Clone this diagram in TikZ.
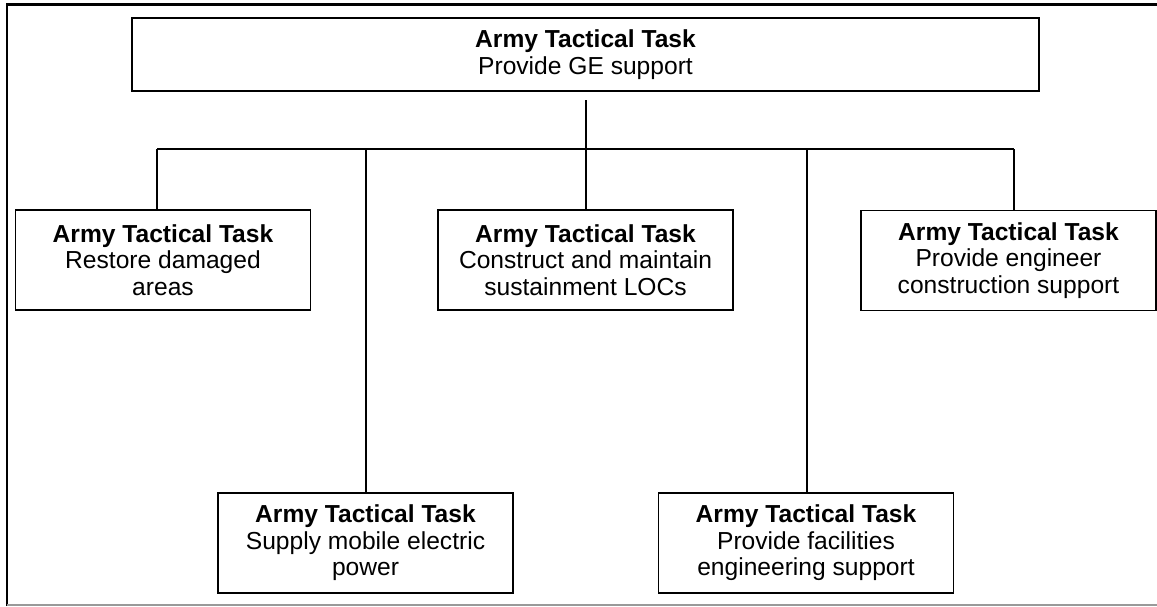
\documentclass[tikz,border=0pt]{standalone}
\usepackage{fontspec}
\setmainfont{Liberation Sans}
\begin{document}
\begin{tikzpicture}[x=1pt,y=-1pt,
  task/.style={draw=black, line width=1.8pt, fill=white, align=center, inner sep=0pt,
    font=\fontsize{24.6}{26.5}\selectfont},
  wide/.style={task, minimum width=907pt, minimum height=73pt},
  tbox/.style={task, minimum width=295pt, minimum height=100pt},
  link/.style={draw=black, line width=1.8pt}]
\useasboundingbox (0,0) rectangle (1157,606);
% frame
\draw[line width=2.6pt] (7,606) -- (7,4.3) -- (1157,4.3);
\draw[line width=1.5pt, gray!80] (7,605.2) -- (1157,605.2);
% nodes
\node[wide] (top) at (585.5,54.5) {\textbf{Army Tactical Task}\\Provide GE support};
\node[tbox] (restore) at (163,260) {\textbf{Army Tactical Task}\\Restore damaged\\areas};
\node[tbox] (loc) at (585.5,260) {\textbf{Army Tactical Task}\\Construct and maintain\\sustainment LOCs};
\node[tbox] (eng) at (1008.5,260.5) {\textbf{Army Tactical Task}\\Provide engineer\\construction support};
\node[tbox] (power) at (365.5,543) {\textbf{Army Tactical Task}\\Supply mobile electric\\power};
\node[tbox] (fac) at (806,543) {\textbf{Army Tactical Task}\\Provide facilities\\engineering support};
% connectors
\coordinate (stem) at (586,100);
\coordinate (j0) at (586,149);
\coordinate (j1) at (157,149);
\coordinate (j2) at (366,149);
\coordinate (j4) at (807,149);
\coordinate (j5) at (1014,149);
\draw[link] (stem) -- (j0);
\draw[link] (j1) -- (j5);
\draw[link] (j1) -- (j1 |- restore.north);
\draw[link] (j2) -- (j2 |- power.north);
\draw[link] (j0) -- (j0 |- loc.north);
\draw[link] (j4) -- (j4 |- fac.north);
\draw[link] (j5) -- (j5 |- eng.north);
\end{tikzpicture}
\end{document}
